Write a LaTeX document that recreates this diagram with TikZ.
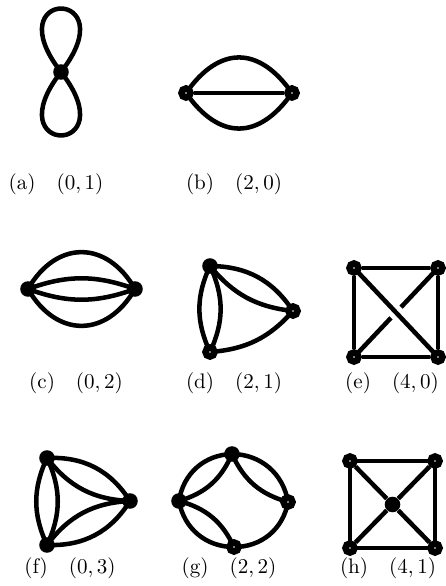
\documentclass[tikz,border=0pt]{standalone}
\usetikzlibrary{calc,backgrounds}

\begin{document}
\begin{tikzpicture}[
  x=0.475pt, y=-0.475pt,
  vdot/.style={circle, fill=black, inner sep=0pt, minimum size=7.4pt},
  vring/.style={circle, draw=black, fill=gray!50, line width=3.1pt, inner sep=0pt, minimum size=4.3pt},
  link/.style={line width=2.15pt},
  sublabel/.style={anchor=base},
]
\useasboundingbox (0,0) rectangle (445,586);

% (a)
\node[vdot] (a1) at (61,72) {};
\node[sublabel] (la) at (56,190) {(a)\quad$(0,1)$};

% (b)
\node[vring] (b1) at (186,93) {};
\node[vring] (b2) at (292,93) {};
\node[sublabel] (lb) at (234,190) {(b)\quad$(2,0)$};

% (c)
\node[vdot] (c1) at (28,289) {};
\node[vdot] (c2) at (135,289) {};
\node[sublabel] (lc) at (76,388) {(c)\quad$(0,2)$};

% (d)
\node[vdot] (d1) at (210,266) {};
\node[vring] (d2) at (210,352) {};
\node[vring] (d3) at (293,311) {};
\node[sublabel] (ld) at (234,388) {(d)\quad$(2,1)$};

% (e)
\node[vring] (e1) at (354,268) {};
\node[vring] (e2) at (438,268) {};
\node[vring] (e3) at (354,357) {};
\node[vring] (e4) at (438,357) {};
\node[sublabel] (le) at (392,388) {(e)\quad$(4,0)$};

% (f)
\node[vdot] (f1) at (47,458) {};
\node[vdot] (f2) at (47,545) {};
\node[vdot] (f3) at (130,501) {};
\node[sublabel] (lf) at (70,573) {(f)\quad$(0,3)$};

% (g)
\node[vdot] (g1) at (232,454) {};
\node[vdot] (g2) at (179,501) {};
\node[vring] (g3) at (288,502) {};
\node[vring] (g4) at (234,547) {};
\node[sublabel] (lg) at (229,573) {(g)\quad$(2,2)$};

% (h)
\node[vring] (h1) at (350,461) {};
\node[vring] (h2) at (435,461) {};
\node[vring] (h3) at (350,548) {};
\node[vring] (h4) at (435,548) {};
\node[vdot] (h5) at (392.5,504.5) {};
\node[sublabel] (lh) at (388,573) {(h)\quad$(4,1)$};

% edges
\begin{scope}[on background layer]
\draw[link] (a1.center) to[out=52, in=128, distance=51pt] (a1.center);
\draw[link] (a1.center) to[out=-52, in=-128, distance=51pt] (a1.center);

\draw[link] (b1.center) to[bend left=55, looseness=1.4] (b2.center);
\draw[link] (b1.center) to[bend right=55, looseness=1.4] (b2.center);
\draw[link] (b1) -- (b2);

\draw[link] (c1.center) to[bend left=60, looseness=1.36] (c2.center);
\draw[link] (c1.center) to[bend right=60, looseness=1.36] (c2.center);
\draw[link] (c1.center) to[bend left=20] (c2.center);
\draw[link] (c1.center) to[bend right=20] (c2.center);

\draw[link] (d1.center) to[bend left=25] (d2.center);
\draw[link] (d1.center) to[bend right=25] (d2.center);
\draw[link] (d1.center) to[bend left=28] (d3.center);
\draw[link] (d1.center) to[bend right=22] (d3.center);
\draw[link] (d2.center) to[bend right=22] (d3.center);

\draw[link] (e1) -- (e2) -- (e4) -- (e3) -- (e1);
\draw[link] (e3.center) -- ($(e3)!0.44!(e2)$);
\draw[link] ($(e3)!0.56!(e2)$) -- (e2.center);
\draw[link] (e1.center) -- (e4.center);

\draw[link] (f1.center) to[bend left=25] (f2.center);
\draw[link] (f1.center) to[bend right=25] (f2.center);
\draw[link] (f1.center) to[bend left=30] (f3.center);
\draw[link] (f1.center) to[bend right=25] (f3.center);
\draw[link] (f2.center) to[bend right=30] (f3.center);
\draw[link] (f2.center) to[bend left=25] (f3.center);

\draw[link] (g1.center) to[bend right=40] (g2.center);
\draw[link] (g1.center) to[bend left=25] (g2.center);
\draw[link] (g2.center) to[bend right=40] (g4.center);
\draw[link] (g2.center) to[bend left=25] (g4.center);
\draw[link] (g1.center) to[bend left=40] (g3.center);
\draw[link] (g1.center) to[bend right=25] (g3.center);
\draw[link] (g3.center) to[bend left=40] (g4.center);

\draw[link] (h1.center) -- (h2.center) -- (h4.center) -- (h3.center) -- cycle;
\draw[link] (h1) -- (h5) -- (h4);
\draw[link] (h2) -- (h5) -- (h3);
\end{scope}

\end{tikzpicture}
\end{document}
